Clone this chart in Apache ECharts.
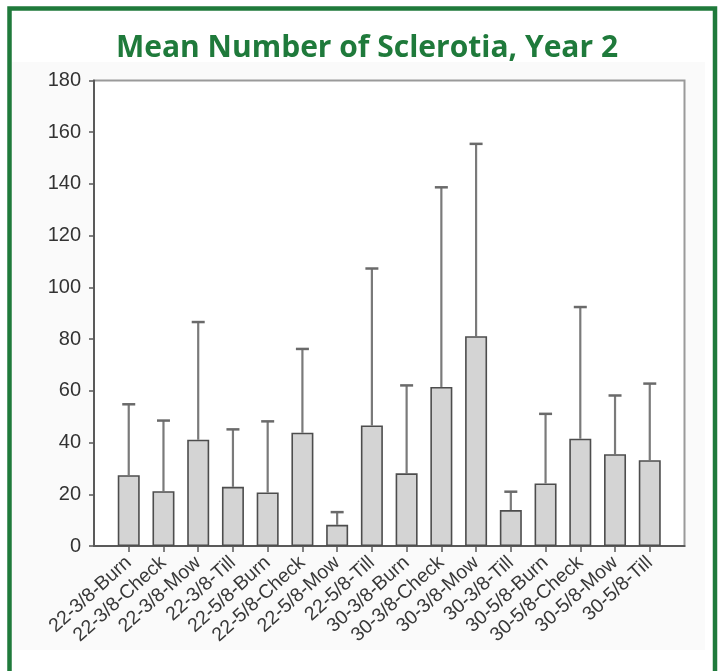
<!DOCTYPE html>
<html>
<head>
<meta charset="utf-8">
<script src="https://cdn.jsdelivr.net/npm/echarts@6/dist/echarts.min.js"></script>
<style>
  html, body { margin: 0; padding: 0; background: #ffffff; }
  #chart { width: 720px; height: 671px; }
</style>
</head>
<body>
<div id="chart"></div>
<script>
// Treatments: burn year - mowing height - residue management
const categories = [
  '22-3/8-Burn', '22-3/8-Check', '22-3/8-Mow', '22-3/8-Till',
  '22-5/8-Burn', '22-5/8-Check', '22-5/8-Mow', '22-5/8-Till',
  '30-3/8-Burn', '30-3/8-Check', '30-3/8-Mow', '30-3/8-Till',
  '30-5/8-Burn', '30-5/8-Check', '30-5/8-Mow', '30-5/8-Till'
];
// Mean number of sclerotia per treatment
const means = [27.4, 21.2, 41.1, 22.9, 20.7, 43.8, 8.2, 46.6, 28.1, 61.5, 81.1, 13.9, 24.2, 41.5, 35.5, 33.2];
// Upper end of each error bar
const errorTops = [54.8, 48.5, 86.6, 45.1, 48.2, 76.2, 13.1, 107.3, 62.1, 138.7, 155.5, 21.0, 51.1, 92.4, 58.2, 62.8];
// Y axis ticks
const yTicks = [0, 20, 40, 60, 80, 100, 120, 140, 160, 180];

const positions = categories.map((_, i) => i);
const barData = means.map((m, i) => [i, m]);
const errData = means.map((m, i) => [i, m, errorTops[i]]);

const green = '#1f7a3b';
const axisGray = '#5a5a5a';

const chart = echarts.init(document.getElementById('chart'), null, { renderer: 'canvas' });

chart.setOption({
  animation: false,
  backgroundColor: '#ffffff',
  graphic: [
    {
      type: 'rect', z: -10, silent: true,
      shape: { x: 12, y: 62, width: 693, height: 588 },
      style: { fill: '#fafafa' }
    },
    {
      type: 'rect', z: 100, silent: true,
      shape: { x: 9.5, y: 8.5, width: 705.5, height: 700 },
      style: { fill: 'none', stroke: green, lineWidth: 4.5 }
    },
    {
      type: 'text', z: 100, silent: true,
      x: 367, y: 48,
      style: {
        text: 'Mean Number of Sclerotia, Year 2',
        fill: green,
        font: 'bold 30px "Open Sans"',
        align: 'center',
        verticalAlign: 'middle'
      }
    }
  ],
  grid: {
    left: 94, right: 35.5, top: 80.5, bottom: 125,
    show: true,
    backgroundColor: '#ffffff',
    borderColor: '#9a9a9a',
    borderWidth: 2
  },
  xAxis: {
    type: 'value',
    min: -1, max: 16, interval: 1,
    splitLine: { show: false },
    axisLine: { show: true, onZero: false, lineStyle: { color: axisGray, width: 2 } },
    axisTick: {
      show: true, length: 6, inside: false,
      customValues: positions,
      lineStyle: { color: axisGray, width: 1.5 }
    },
    axisLabel: {
      customValues: positions,
      rotate: 42,
      margin: 14,
      color: '#383838',
      fontFamily: 'Liberation Sans',
      fontSize: 19.5,
      formatter: v => categories[v] || ''
    }
  },
  yAxis: {
    type: 'value',
    min: yTicks[0], max: yTicks[yTicks.length - 1], interval: 20,
    splitLine: { show: false },
    axisLine: { show: true, onZero: false, lineStyle: { color: axisGray, width: 2 } },
    axisTick: { show: true, length: 5, lineStyle: { color: axisGray, width: 1.5 } },
    axisLabel: {
      margin: 13,
      color: '#333333',
      fontFamily: 'Liberation Sans',
      fontSize: 20
    }
  },
  series: [
    {
      type: 'custom',
      z: 1,
      data: errData,
      renderItem: function (params, api) {
        const x = api.value(0);
        const base = api.coord([x, api.value(1)]);
        const top = api.coord([x, api.value(2)]);
        const half = 6.5;
        return {
          type: 'group',
          children: [
            { type: 'line', shape: { x1: base[0], y1: base[1], x2: top[0], y2: top[1] }, style: { stroke: '#7a7a7a', lineWidth: 2.2 } },
            { type: 'line', shape: { x1: top[0] - half, y1: top[1], x2: top[0] + half, y2: top[1] }, style: { stroke: '#6a6a6a', lineWidth: 2.5 } }
          ]
        };
      }
    },
    {
      type: 'bar',
      z: 2,
      data: barData,
      barWidth: 22,
      itemStyle: {
        color: '#d4d4d4',
        borderColor: '#4d4d4d',
        borderWidth: 1.6
      }
    }
  ]
});
</script>
</body>
</html>
